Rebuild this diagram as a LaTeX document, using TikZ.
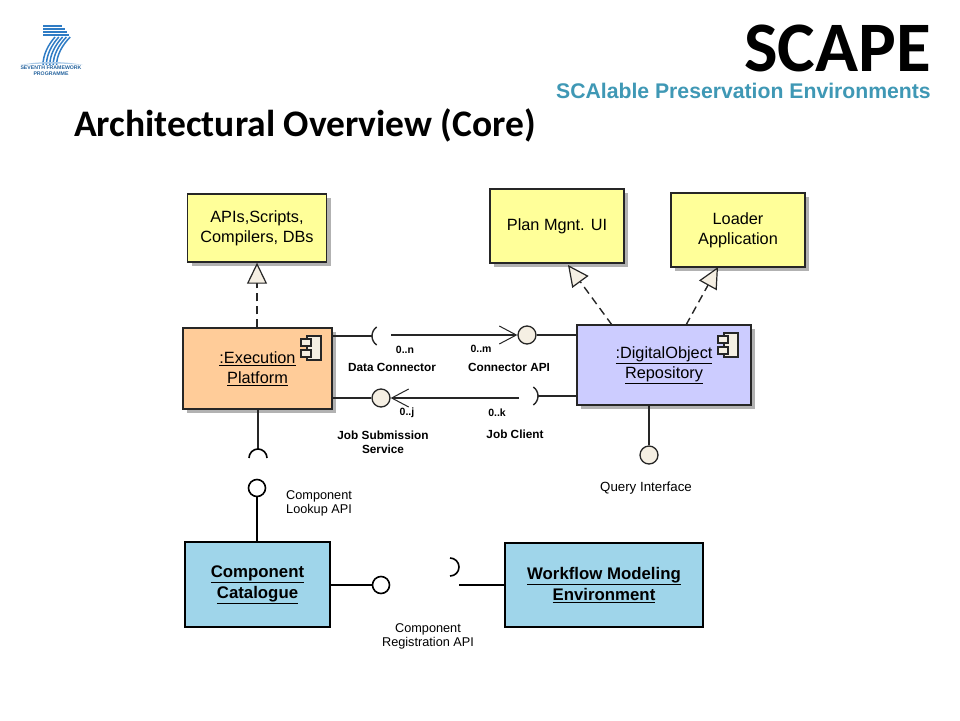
\documentclass[tikz,border=0pt]{standalone}
\usepackage{fontspec}
\setmainfont{Liberation Sans}
\newfontfamily\slidefont{Carlito}
\usetikzlibrary{arrows.meta,shadows}
\definecolor{noteyellow}{HTML}{FFFF99}
\definecolor{execorange}{HTML}{FFCC99}
\definecolor{repoblue}{HTML}{CCCCFF}
\definecolor{catblue}{HTML}{9FD5EA}
\definecolor{cream}{HTML}{F5EFE3}
\definecolor{scapeteal}{HTML}{3F98B5}
\definecolor{fpblue}{HTML}{2F7CC5}
\newcommand{\fsize}[1]{\fontsize{#1}{#1}\selectfont}
\tikzset{
    umlbox/.style={draw=black!85,line width=1.4pt,align=center,inner sep=0pt,
        font=\fsize{16.3}\linespread{1.24}\selectfont,
        drop shadow={shadow xshift=4pt,shadow yshift=-4pt,fill=black!60,opacity=0.5}},
    catbox/.style={draw=black,line width=1.6pt,fill=catblue,align=center,inner sep=0pt,
        font=\bfseries\fsize{16.8}\linespread{1.25}\selectfont},
    ball/.style={circle,draw=black!85,line width=1.3pt,fill=cream,minimum size=18pt,inner sep=0pt},
    whiteball/.style={ball,draw=black,line width=1.6pt,fill=white,minimum size=17pt},
    wire/.style={draw=black!85,line width=1.4pt},
    thickwire/.style={draw=black,line width=1.6pt},
    realize/.style={wire,dash pattern=on 8pt off 5pt,
        -{Triangle[open,fill=cream,length=21pt,width=20pt,line width=1.2pt]}},
    wanted/.style={wire,-{Straight Barb[length=17pt,width=18pt,line width=1pt]}},
    mult/.style={inner sep=0pt,font=\bfseries\fsize{10.5}},
    portlabel/.style={inner sep=0pt,align=center,font=\bfseries\fsize{11.8}\linespread{1.2}\selectfont},
    apilabel/.style={inner sep=0pt,align=center,font=\fsize{12.7}\linespread{1.1}\selectfont},
    fpstripe/.style={draw=fpblue,line width=1.5pt},
}
\newcommand{\compicon}[2]{% top left corner of the icon body
    \draw[line width=1.2pt,draw=black!85,fill=cream] (#1+3,#2) rectangle (#1+17,#2+24);
    \draw[line width=1.2pt,draw=black!85,fill=cream] (#1-3,#2+3) rectangle (#1+7,#2+10);
    \draw[line width=1.2pt,draw=black!85,fill=cream] (#1-3,#2+14) rectangle (#1+7,#2+21);
}
\begin{document}
\begin{tikzpicture}[x=1pt,y=-1pt]
    \useasboundingbox (0,0) rectangle (960,720);
    \fill[white] (0,0) rectangle (960,720);

    % logo
    \foreach \y/\e in {25.5/62,28.5/65,31.5/67,34.5/69}
        \draw[fpstripe,line width=2pt] (43,\y) -- (\e,\y);
    \foreach \i in {0,...,4}
        \draw[fpstripe] (55+3.8*\i,37) .. controls (48+3.6*\i,45) and (43+3.4*\i,55) .. (43+3.4*\i,65);
    \fill[fpblue!40!white] (20,65) .. controls (40,61) and (63,61) .. (83,65) .. controls (63,63) and (40,63) .. (20,65);
    \node[inner sep=0pt,align=center,text=fpblue!80!black,font=\bfseries\fsize{5.2}\linespread{1.15}\selectfont] (fplogo) at (51,71) {SEVENTH FRAMEWORK\\PROGRAMME};

    % heading
    \node[anchor=base east,inner sep=0pt,font=\slidefont\bfseries\fsize{71}] (scape) at (931,71) {SCAPE};
    \node[anchor=base east,inner sep=0pt,text=scapeteal,font=\bfseries\fsize{21.2}] (subtitle) at (931,98) {SCAlable Preservation Environments};
    \node[anchor=base west,inner sep=0pt,font=\slidefont\bfseries\fsize{37.5}] (title) at (74,136) {Architectural Overview (Core)};

    % boxes
    \node[umlbox,fill=noteyellow,minimum width=139pt,minimum height=68pt] (apis) at (257,228) {APIs,Scripts,\\Compilers, DBs};
    \node[umlbox,fill=noteyellow,minimum width=134pt,minimum height=74pt] (plan) at (557,226) {Plan Mgnt. UI};
    \node[umlbox,fill=noteyellow,minimum width=134pt,minimum height=74pt] (loader) at (738,230) {Loader\\Application};
    \node[umlbox,fill=execorange,minimum width=149pt,minimum height=81pt] (exec) at (257.5,368.5) {\underline{:Execution}\\\underline{Platform}};
    \node[umlbox,fill=repoblue,minimum width=174pt,minimum height=80pt] (repo) at (664,365) {\underline{:DigitalObject}\\\underline{Repository}};
    \node[catbox,minimum width=145pt,minimum height=85pt] (catalogue) at (257.5,584.5) {\underline{Component}\\\underline{Catalogue}};
    \node[catbox,minimum width=198pt,minimum height=84pt] (workflow) at (604,585) {\underline{Workflow Modeling}\\\underline{Environment}};
    \compicon{304}{336}
    \compicon{721}{333}

    % interfaces
    \node[ball] (connapi) at (527,335) {};
    \node[ball] (jobsub) at (381,398) {};
    \node[ball] (query) at (649,455) {};
    \node[whiteball] (lookup) at (257,488) {};
    \node[whiteball] (regapi) at (381,585) {};
    \coordinate (datasock) at (372,336);
    \coordinate (jobsock) at (538,396);
    \coordinate (lookupsock) at (258,449);
    \coordinate (regsock) at (459,585);
    \coordinate (datastart) at (391,335);
    \coordinate (jobstart) at (519,397);

    % realizations
    \draw[realize] (exec.north -| apis.south) -- (apis.south);
    \draw[realize] (612,325) -- (568,265);
    \draw[realize] (686,325) -- (718,267);

    % upper connectors
    \draw[wire] (exec.east |- datasock) -- (datasock);
    \draw[wire] (datasock) arc[start angle=180,end angle=125,radius=11];
    \draw[wire] (datasock) arc[start angle=180,end angle=235,radius=11];
    \draw[wanted] (datastart) -- (connapi.west);
    \draw[wire] (connapi.east) -- (repo.west |- connapi);

    % lower connectors
    \draw[wire] (exec.east |- jobsub) -- (jobsub.west);
    \draw[wanted] (jobstart |- jobsub) -- (jobsub.east);
    \draw[wire] (jobsock) -- (repo.west |- jobsock);
    \draw[wire] (jobsock) arc[start angle=0,end angle=55,radius=11];
    \draw[wire] (jobsock) arc[start angle=0,end angle=-55,radius=11];

    % down connectors
    \draw[wire] (exec.south -| lookupsock) -- (lookupsock);
    \draw[thickwire] (249,458) arc[start angle=180,end angle=360,radius=9];
    \draw[wire] (repo.south -| query) -- (query.north);
    \draw[thickwire] (lookup.south) -- (catalogue.north -| lookup);
    \draw[thickwire] (catalogue.east |- regapi) -- (regapi.west);
    \draw[thickwire] (regsock) -- (workflow.west |- regsock);
    \draw[thickwire] (450,576) arc[start angle=90,end angle=-90,radius=9];

    % labels
    \node[mult] (mdata) at (405,350) {0..n};
    \node[mult] (mconn) at (481,349) {0..m};
    \node[mult] (mjobsub) at (407,413) {0..j};
    \node[mult] (mjob) at (497,413) {0..k};
    \node[portlabel] (ldata) at (392,367) {Data Connector};
    \node[portlabel] (lconn) at (509,367) {Connector API};
    \node[portlabel] (ljobsub) at (383,442) {Job Submission\\Service};
    \node[portlabel] (ljob) at (515,434) {Job Client};
    \node[inner sep=0pt,font=\fsize{13.3}] (lquery) at (646,488.5) {Query Interface};
    \node[apilabel,anchor=west] (llookup) at (286,503) {Component\\Lookup API};
    \node[apilabel] (lreg) at (428,636) {Component\\Registration API};
\end{tikzpicture}
\end{document}
